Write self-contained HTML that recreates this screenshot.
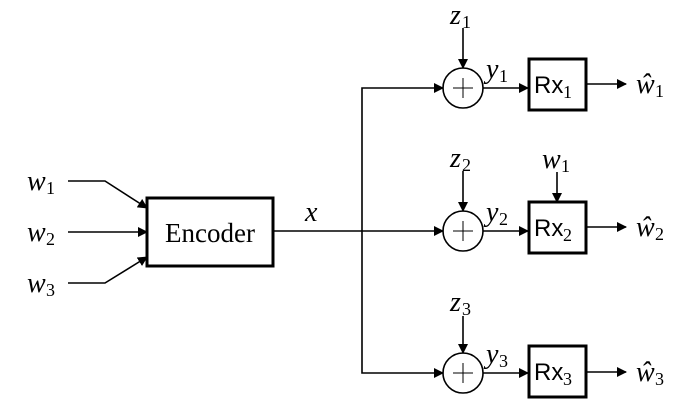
<!DOCTYPE html>
<html><head><style>body{margin:0;background:#fff}svg{display:block}
.m{font-family:"Liberation Serif",serif;font-style:italic;font-size:28px}
.s{font-family:"Liberation Serif",serif;font-size:18px}
.r{font-family:"Liberation Sans",sans-serif;font-size:24px}
</style></head><body>
<svg width="692" height="409" viewBox="0 0 692 409">
<defs><marker id="a" markerWidth="10" markerHeight="10" refX="9" refY="5" orient="auto" markerUnits="userSpaceOnUse"><path d="M0,0L10,5L0,10Z" fill="#000"/></marker></defs>
<g stroke="#000" stroke-width="1.6" fill="none">
<polyline points="68,181 105,181 147,208" marker-end="url(#a)"/>
<line x1="68" y1="232" x2="147" y2="232" marker-end="url(#a)"/>
<polyline points="68,283 105,283 147,257" marker-end="url(#a)"/>
<line x1="273" y1="231" x2="443" y2="231" marker-end="url(#a)"/>
<polyline points="362,231 362,88 443,88" marker-end="url(#a)"/>
<polyline points="362,231 362,373 443,373" marker-end="url(#a)"/>
<line x1="463" y1="28" x2="463" y2="68" marker-end="url(#a)"/>
<line x1="463" y1="171" x2="463" y2="211" marker-end="url(#a)"/>
<line x1="463" y1="316" x2="463" y2="353" marker-end="url(#a)"/>
<line x1="557" y1="172" x2="557" y2="202" marker-end="url(#a)"/>
<line x1="483" y1="88" x2="528" y2="88" marker-end="url(#a)"/>
<line x1="483" y1="231" x2="528" y2="231" marker-end="url(#a)"/>
<line x1="483" y1="373" x2="528" y2="373" marker-end="url(#a)"/>
<line x1="586" y1="84" x2="626" y2="84" marker-end="url(#a)"/>
<line x1="586" y1="227" x2="626" y2="227" marker-end="url(#a)"/>
<line x1="586" y1="372" x2="626" y2="372" marker-end="url(#a)"/>
<circle cx="463" cy="88" r="20"/><circle cx="463" cy="231" r="20"/><circle cx="463" cy="373" r="20"/>
<path d="M453,88h20M463,78v20M453,231h20M463,221v20M453,373h20M463,363v20" stroke-width="1"/>
</g>
<g stroke="#000" stroke-width="3" fill="#fff">
<rect x="147" y="198" width="126" height="68"/>
<rect x="529" y="59" width="57" height="51"/>
<rect x="529" y="202" width="57" height="51"/>
<rect x="529" y="346" width="57" height="51"/>
</g>
<text x="210" y="242" text-anchor="middle" font-family="Liberation Serif,serif" font-size="27">Encoder</text>
<text x="27" y="190" class="m">w</text><text x="46" y="194" class="s">1</text>
<text x="27" y="241" class="m">w</text><text x="46" y="245" class="s">2</text>
<text x="27" y="292" class="m">w</text><text x="46" y="296" class="s">3</text>
<text x="305" y="221" class="m">x</text>
<text x="450" y="24" class="m">z</text><text x="462" y="28" class="s">1</text>
<text x="450" y="167" class="m">z</text><text x="462" y="171" class="s">2</text>
<text x="450" y="311" class="m">z</text><text x="462" y="315" class="s">3</text>
<text x="542" y="168" class="m">w</text><text x="561" y="172" class="s">1</text>
<text x="486" y="78" class="m">y</text><text x="499" y="82" class="s">1</text>
<text x="486" y="221" class="m">y</text><text x="499" y="225" class="s">2</text>
<text x="486" y="363" class="m">y</text><text x="499" y="367" class="s">3</text>
<text x="534" y="93" class="r">Rx</text><text x="563" y="98" class="s">1</text>
<text x="534" y="236" class="r">Rx</text><text x="563" y="241" class="s">2</text>
<text x="534" y="380" class="r">Rx</text><text x="563" y="385" class="s">3</text>
<text x="636" y="93" class="m">ŵ</text><text x="655" y="97" class="s">1</text>
<text x="636" y="236" class="m">ŵ</text><text x="655" y="240" class="s">2</text>
<text x="636" y="381" class="m">ŵ</text><text x="655" y="385" class="s">3</text>
</svg>
</body></html>
